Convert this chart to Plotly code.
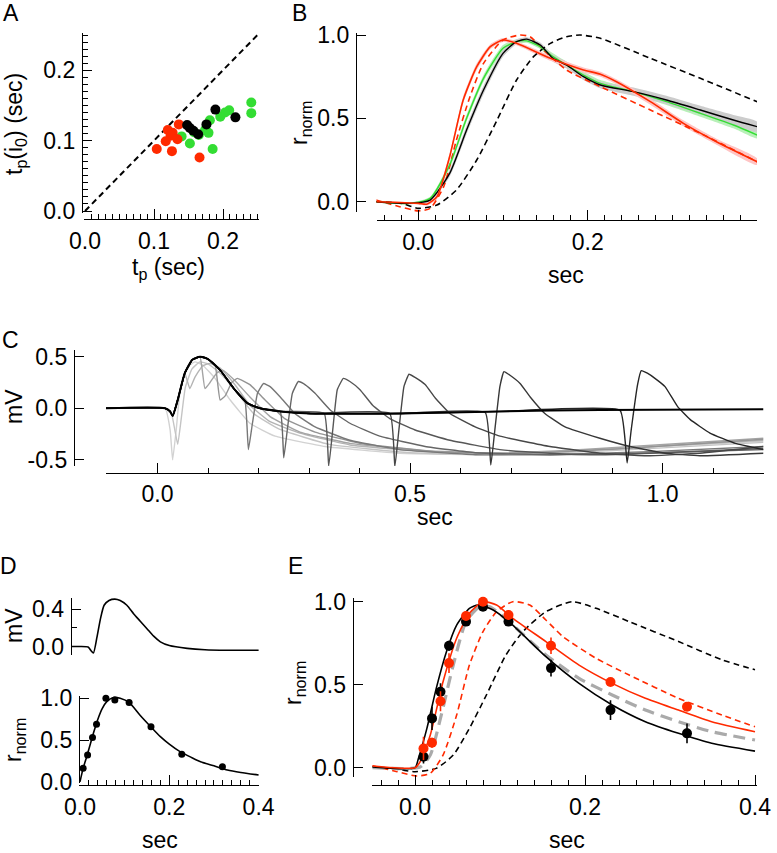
import plotly.graph_objects as go

W, H = 777, 853
FONT = "Liberation Sans, Arial, Helvetica, sans-serif"
FS = 23
RED = "#ff2a00"
GREEN = "#33dd33"

# ---------------- Panel A data ----------------
A_red_x = [0.136, 0.120, 0.127, 0.124, 0.117, 0.134, 0.104, 0.126, 0.166]
A_red_y = [0.123, 0.115, 0.111, 0.107, 0.099, 0.102, 0.088, 0.085, 0.076]
A_green_x = [0.241, 0.241, 0.209, 0.203, 0.196, 0.181, 0.174, 0.179, 0.165, 0.152, 0.140, 0.185, 0.158]
A_green_y = [0.154, 0.139, 0.143, 0.140, 0.134, 0.129, 0.115, 0.111, 0.108, 0.096, 0.106, 0.088, 0.112]
A_black_x = [0.189, 0.218, 0.176, 0.148, 0.152, 0.157, 0.164]
A_black_y = [0.144, 0.133, 0.123, 0.122, 0.118, 0.114, 0.109]
A_unity = [0.0, 0.25]

# ---------------- Panel B data ----------------
B_bdash_x = [-0.05, -0.02, 0.0, 0.022, 0.045, 0.069, 0.093, 0.116, 0.136, 0.156, 0.175, 0.191, 0.215, 0.274, 0.333, 0.4]
B_bdash_y = [0.0, -0.01, -0.04, -0.02, 0.07, 0.25, 0.49, 0.73, 0.87, 0.95, 0.99, 1.0, 0.98, 0.86, 0.74, 0.60]
B_rdash_x = [-0.05, -0.022, 0.0, 0.014, 0.03, 0.045, 0.061, 0.077, 0.1, 0.12, 0.132, 0.148, 0.175, 0.215, 0.274, 0.333, 0.4]
B_rdash_y = [0.01, -0.03, -0.055, -0.04, 0.09, 0.37, 0.63, 0.83, 0.97, 1.0, 0.99, 0.91, 0.79, 0.69, 0.55, 0.41, 0.24]
B_red_x = [-0.05, 0.0, 0.01, 0.022, 0.037, 0.053, 0.069, 0.085, 0.1, 0.116, 0.156, 0.195, 0.215, 0.234, 0.274, 0.313, 0.352, 0.4]
B_red_y = [0.0, -0.01, -0.015, 0.03, 0.27, 0.61, 0.81, 0.93, 0.97, 0.95, 0.86, 0.79, 0.765, 0.72, 0.60, 0.47, 0.36, 0.24]
B_red_sd = [0.005, 0.005, 0.008, 0.015, 0.02, 0.02, 0.02, 0.015, 0.012, 0.012, 0.015, 0.015, 0.015, 0.015, 0.018, 0.018, 0.018, 0.02]
B_black_x = [-0.05, -0.01, 0.014, 0.037, 0.057, 0.077, 0.1, 0.116, 0.128, 0.144, 0.159, 0.175, 0.195, 0.215, 0.254, 0.293, 0.333, 0.372, 0.4]
B_black_y = [0.0, -0.01, 0.01, 0.17, 0.43, 0.67, 0.89, 0.96, 0.975, 0.94, 0.86, 0.82, 0.75, 0.70, 0.66, 0.61, 0.55, 0.49, 0.45]
B_black_sd = [0.005, 0.005, 0.01, 0.02, 0.025, 0.025, 0.02, 0.015, 0.012, 0.015, 0.02, 0.02, 0.02, 0.02, 0.025, 0.025, 0.025, 0.03, 0.03]
B_green_x = B_black_x
B_green_y = [0.0, -0.01, 0.02, 0.22, 0.50, 0.74, 0.92, 0.96, 0.965, 0.93, 0.87, 0.82, 0.76, 0.71, 0.66, 0.60, 0.53, 0.46, 0.40]
B_green_sd = [0.005, 0.005, 0.01, 0.02, 0.02, 0.02, 0.02, 0.015, 0.012, 0.015, 0.02, 0.02, 0.02, 0.02, 0.02, 0.02, 0.02, 0.02, 0.02]

# ---------------- Panel C data ----------------
C_main_x = [-0.102, 0.015, 0.025, 0.03, 0.04, 0.054, 0.069, 0.084, 0.099, 0.124, 0.153, 0.178, 0.203, 0.243, 0.302, 0.48, 0.678, 0.876, 1.2]
C_main_y = [0.0, 0.0, -0.03, -0.074, 0.08, 0.34, 0.47, 0.5, 0.48, 0.37, 0.18, 0.05, 0.0, -0.03, -0.05, -0.05, -0.03, -0.016, -0.01]
C_traces = [
    ("#d2d2d2",
     [-0.102, 0.015, 0.025, 0.03, 0.037, 0.045, 0.059, 0.074, 0.089, 0.114, 0.144, 0.183, 0.233, 0.332, 0.48, 0.678, 0.876, 1.2],
     [0.0, 0.0, -0.21, -0.5, -0.21, 0.18, 0.4, 0.45, 0.42, 0.29, 0.08, -0.145, -0.27, -0.37, -0.435, -0.45, -0.4, -0.32]),
    ("#c4c4c4",
     [-0.102, 0.015, 0.028, 0.04, 0.047, 0.055, 0.068, 0.084, 0.1, 0.124, 0.153, 0.19, 0.24, 0.34, 0.5, 0.7, 0.9, 1.2],
     [0.0, 0.0, -0.06, -0.35, -0.1, 0.2, 0.38, 0.45, 0.43, 0.34, 0.18, -0.05, -0.2, -0.35, -0.43, -0.445, -0.41, -0.33]),
    ("#b4b4b4",
     [-0.102, 0.015, 0.025, 0.03, 0.04, 0.054, 0.064, 0.074, 0.089, 0.104, 0.124, 0.153, 0.183, 0.223, 0.282, 0.381, 0.53, 0.678, 0.876, 1.2],
     [0.0, 0.0, -0.03, -0.074, 0.08, 0.34, 0.19, 0.3, 0.41, 0.435, 0.39, 0.23, 0.03, -0.13, -0.24, -0.355, -0.42, -0.44, -0.4, -0.31]),
    ("#a4a4a4",
     [-0.102, 0.015, 0.025, 0.03, 0.04, 0.054, 0.069, 0.084, 0.094, 0.104, 0.117, 0.129, 0.153, 0.183, 0.223, 0.282, 0.381, 0.53, 0.678, 0.876, 1.2],
     [0.0, 0.0, -0.03, -0.074, 0.08, 0.34, 0.47, 0.5, 0.19, 0.25, 0.34, 0.37, 0.27, 0.11, -0.08, -0.23, -0.34, -0.41, -0.435, -0.39, -0.29]),
    ("#949494",
     [-0.102, 0.015, 0.025, 0.03, 0.04, 0.054, 0.069, 0.084, 0.099, 0.114, 0.124, 0.134, 0.147, 0.158, 0.183, 0.213, 0.252, 0.312, 0.401, 0.55, 0.728, 0.926, 1.2],
     [0.0, 0.0, -0.03, -0.074, 0.08, 0.34, 0.47, 0.5, 0.48, 0.42, 0.08, 0.12, 0.25, 0.29, 0.23, 0.08, -0.1, -0.23, -0.34, -0.42, -0.435, -0.39, -0.3]),
    ("#787878",
     [-0.102, 0.015, 0.025, 0.03, 0.04, 0.054, 0.069, 0.084, 0.099, 0.124, 0.153, 0.173, 0.18, 0.188, 0.198, 0.21, 0.223, 0.243, 0.272, 0.312, 0.381, 0.48, 0.629, 0.777, 0.975, 1.2],
     [0.0, 0.0, -0.03, -0.074, 0.08, 0.34, 0.47, 0.5, 0.48, 0.37, 0.18, 0.08, -0.4, -0.145, 0.145, 0.24, 0.21, 0.11, -0.05, -0.18, -0.31, -0.4, -0.45, -0.45, -0.42, -0.37]),
    ("#666666",
     [-0.102, 0.015, 0.025, 0.03, 0.04, 0.054, 0.069, 0.084, 0.099, 0.124, 0.153, 0.178, 0.203, 0.243, 0.25, 0.257, 0.267, 0.279, 0.292, 0.312, 0.342, 0.381, 0.44, 0.53, 0.629, 0.777, 0.926, 1.2],
     [0.0, 0.0, -0.03, -0.074, 0.08, 0.34, 0.47, 0.5, 0.48, 0.37, 0.18, 0.05, 0.0, -0.03, -0.48, -0.21, 0.145, 0.26, 0.23, 0.145, -0.016, -0.145, -0.27, -0.37, -0.43, -0.45, -0.44, -0.4]),
    ("#575757",
     [-0.102, 0.015, 0.025, 0.03, 0.04, 0.054, 0.069, 0.084, 0.099, 0.124, 0.153, 0.178, 0.203, 0.243, 0.33, 0.339, 0.347, 0.356, 0.368, 0.381, 0.401, 0.426, 0.46, 0.51, 0.579, 0.678, 0.777, 0.876, 0.975, 1.2],
     [0.0, 0.0, -0.03, -0.074, 0.08, 0.34, 0.47, 0.5, 0.48, 0.37, 0.18, 0.05, 0.0, -0.03, -0.048, -0.56, -0.21, 0.18, 0.29, 0.26, 0.18, 0.03, -0.1, -0.21, -0.31, -0.4, -0.435, -0.45, -0.435, -0.39]),
    ("#474747",
     [-0.102, 0.015, 0.025, 0.03, 0.04, 0.054, 0.069, 0.084, 0.099, 0.124, 0.153, 0.178, 0.203, 0.243, 0.302, 0.46, 0.47, 0.478, 0.488, 0.498, 0.51, 0.53, 0.55, 0.579, 0.629, 0.678, 0.777, 0.876, 0.975, 1.074, 1.2],
     [0.0, 0.0, -0.03, -0.074, 0.08, 0.34, 0.47, 0.5, 0.48, 0.37, 0.18, 0.05, 0.0, -0.03, -0.05, -0.05, -0.565, -0.21, 0.21, 0.33, 0.3, 0.23, 0.1, -0.05, -0.18, -0.27, -0.37, -0.435, -0.46, -0.435, -0.37]),
    ("#383838",
     [-0.102, 0.015, 0.025, 0.03, 0.04, 0.054, 0.069, 0.084, 0.099, 0.124, 0.153, 0.178, 0.203, 0.243, 0.302, 0.48, 0.649, 0.66, 0.668, 0.678, 0.686, 0.698, 0.718, 0.738, 0.767, 0.807, 0.876, 0.936, 1.005, 1.074, 1.2],
     [0.0, 0.0, -0.03, -0.074, 0.08, 0.34, 0.47, 0.5, 0.48, 0.37, 0.18, 0.05, 0.0, -0.03, -0.05, -0.05, -0.04, -0.55, -0.21, 0.21, 0.355, 0.32, 0.24, 0.11, -0.05, -0.18, -0.29, -0.37, -0.435, -0.46, -0.435]),
    ("#262626",
     [-0.102, 0.015, 0.025, 0.03, 0.04, 0.054, 0.069, 0.084, 0.099, 0.124, 0.153, 0.178, 0.203, 0.243, 0.302, 0.48, 0.678, 0.916, 0.93, 0.938, 0.951, 0.958, 0.97, 0.985, 1.005, 1.03, 1.055, 1.094, 1.144, 1.2],
     [0.0, 0.0, -0.03, -0.074, 0.08, 0.34, 0.47, 0.5, 0.48, 0.37, 0.18, 0.05, 0.0, -0.03, -0.05, -0.05, -0.03, -0.02, -0.53, -0.21, 0.24, 0.365, 0.34, 0.29, 0.21, 0.016, -0.11, -0.24, -0.34, -0.40]),
]

# ---------------- Panel D data ----------------
D_mv_x = [-0.02, 0.0, 0.018, 0.024, 0.03, 0.038, 0.046, 0.054, 0.065, 0.078, 0.09, 0.105, 0.12, 0.135, 0.15, 0.165, 0.18, 0.2, 0.24, 0.28, 0.33, 0.4]
D_mv_y = [0.0, 0.0, -0.005, -0.04, -0.07, 0.1, 0.3, 0.44, 0.49, 0.505, 0.49, 0.44, 0.35, 0.27, 0.19, 0.11, 0.05, 0.01, -0.02, -0.035, -0.04, -0.04]
D_dot_x = [0.007, 0.017, 0.028, 0.037, 0.058, 0.078, 0.11, 0.159, 0.228, 0.319]
D_dot_y = [0.16, 0.32, 0.53, 0.69, 1.0, 0.98, 0.95, 0.66, 0.33, 0.18]
D_fit_x = [0.0, 0.007, 0.015, 0.03, 0.04, 0.05, 0.06, 0.075, 0.09, 0.11, 0.134, 0.16, 0.18, 0.2, 0.224, 0.25, 0.27, 0.3, 0.33, 0.36, 0.4]
D_fit_y = [0.0, 0.16, 0.3, 0.58, 0.75, 0.88, 0.96, 1.01, 1.0, 0.95, 0.8, 0.65, 0.54, 0.45, 0.36, 0.29, 0.24, 0.19, 0.14, 0.11, 0.08]

# ---------------- Panel E data ----------------
E_bdash_x = [-0.05, -0.02, 0.0, 0.025, 0.045, 0.064, 0.084, 0.107, 0.127, 0.154, 0.185, 0.213, 0.252, 0.31, 0.361, 0.4]
E_bdash_y = [0.006, -0.01, -0.024, -0.004, 0.076, 0.237, 0.438, 0.679, 0.82, 0.94, 1.0, 0.96, 0.88, 0.76, 0.65, 0.59]
E_rdash_x = [-0.05, -0.021, 0.002, 0.018, 0.033, 0.049, 0.064, 0.08, 0.096, 0.115, 0.135, 0.154, 0.174, 0.213, 0.252, 0.31, 0.361, 0.4]
E_rdash_y = [0.012, -0.024, -0.05, -0.034, 0.076, 0.317, 0.618, 0.82, 0.94, 1.0, 0.98, 0.89, 0.79, 0.659, 0.558, 0.418, 0.317, 0.247]
E_red_x = [-0.05, 0.0, 0.006, 0.018, 0.033, 0.049, 0.064, 0.08, 0.096, 0.115, 0.154, 0.193, 0.232, 0.271, 0.31, 0.349, 0.4]
E_red_y = [0.01, 0.0, 0.036, 0.197, 0.518, 0.78, 0.93, 1.0, 0.98, 0.9, 0.76, 0.618, 0.508, 0.418, 0.347, 0.277, 0.217]
E_black_x = [-0.05, 0.0, 0.004, 0.014, 0.025, 0.037, 0.049, 0.064, 0.074, 0.092, 0.115, 0.154, 0.193, 0.232, 0.271, 0.31, 0.349, 0.4]
E_black_y = [0.004, 0.0, 0.056, 0.237, 0.478, 0.699, 0.859, 0.96, 0.98, 0.95, 0.859, 0.669, 0.508, 0.378, 0.277, 0.207, 0.147, 0.1]
E_grey_x = [-0.05, 0.006, 0.018, 0.029, 0.045, 0.06, 0.076, 0.088, 0.115, 0.154, 0.193, 0.232, 0.271, 0.31, 0.349, 0.4]
E_grey_y = [0.0, 0.004, 0.076, 0.277, 0.618, 0.88, 0.97, 0.97, 0.859, 0.679, 0.538, 0.438, 0.347, 0.277, 0.217, 0.167]
E_dot_x = [0.01, 0.02, 0.03, 0.04, 0.06, 0.08, 0.11, 0.16, 0.23, 0.32]
E_bdot_y = [0.066, 0.297, 0.458, 0.735, 0.88, 0.97, 0.88, 0.60, 0.347, 0.207]
E_bdot_err = [0.04, 0.07, 0.05, 0.03, 0.02, 0.02, 0.02, 0.05, 0.06, 0.06]
E_rdot_y = [0.116, 0.15, 0.40, 0.63, 0.914, 1.0, 0.92, 0.735, 0.516, 0.367]
E_rdot_err = [0.07, 0.03, 0.06, 0.06, 0.02, 0.02, 0.03, 0.05, 0.02, 0.02]


# ---------------- helpers ----------------
def xdom(a, b):
    return [a / W, b / W]


def ydom(top, bottom):
    return [1 - bottom / H, 1 - top / H]


def rng(p0, v0, p1, v1, a, b):
    k = (v1 - v0) / (p1 - p0)
    return [v0 + (a - p0) * k, v0 + (b - p0) * k]


fig = go.Figure()


def line(x, y, ax, color, width=1.5, dash=None, shape="spline", smoothing=0.6):
    fig.add_trace(go.Scatter(x=x, y=y, xaxis="x" + ax, yaxis="y" + ax, mode="lines",
                             line=dict(color=color, width=width, dash=dash, shape=shape, smoothing=smoothing),
                             hoverinfo="skip", showlegend=False))


def band(x, y, sd, ax, color):
    up = [a + b for a, b in zip(y, sd)]
    lo = [a - b for a, b in zip(y, sd)]
    fig.add_trace(go.Scatter(x=list(x) + list(x)[::-1], y=up + lo[::-1], xaxis="x" + ax, yaxis="y" + ax,
                             mode="lines", fill="toself", fillcolor=color,
                             line=dict(width=0, shape="spline", smoothing=0.6),
                             hoverinfo="skip", showlegend=False))


# Panel A
fig.add_trace(go.Scatter(x=A_unity, y=A_unity, xaxis="x1", yaxis="y1", mode="lines",
                         line=dict(color="black", width=2, dash="6px,4px"), showlegend=False))
for xs, ys, c in [(A_green_x, A_green_y, GREEN), (A_red_x, A_red_y, RED), (A_black_x, A_black_y, "black")]:
    fig.add_trace(go.Scatter(x=xs, y=ys, xaxis="x1", yaxis="y1", mode="markers",
                             marker=dict(color=c, size=10, line=dict(width=0)), showlegend=False,
                             cliponaxis=False))

# Panel B
band(B_green_x, B_green_y, B_green_sd, "2", "#b8f0b8")
band(B_black_x, B_black_y, B_black_sd, "2", "#cccccc")
band(B_red_x, B_red_y, B_red_sd, "2", "#ffc4c4")
line(B_bdash_x, B_bdash_y, "2", "black", 1.6, "6px,4px")
line(B_rdash_x, B_rdash_y, "2", RED, 1.6, "6px,4px")
line(B_green_x, B_green_y, "2", GREEN, 1.4)
line(B_black_x, B_black_y, "2", "black", 1.4)
line(B_red_x, B_red_y, "2", RED, 1.6)

# Panel C
for c, xs, ys in C_traces:
    line(xs, ys, "3", c, 1.4, shape="spline", smoothing=0.35)
line(C_main_x, C_main_y, "3", "black", 2.0)

# Panel D
line(D_mv_x, D_mv_y, "4", "black", 1.6)
line(D_fit_x, D_fit_y, "5", "black", 1.6)
fig.add_trace(go.Scatter(x=D_dot_x, y=D_dot_y, xaxis="x5", yaxis="y5", mode="markers",
                         marker=dict(color="black", size=7), showlegend=False, cliponaxis=False))

# Panel E
line(E_bdash_x, E_bdash_y, "6", "black", 1.6, "6px,4px")
line(E_rdash_x, E_rdash_y, "6", RED, 1.6, "6px,4px")
line(E_grey_x, E_grey_y, "6", "#aaaaaa", 3.2, "12px,7px")
line(E_black_x, E_black_y, "6", "black", 1.6)
line(E_red_x, E_red_y, "6", RED, 1.6)
for ys, err, c in [(E_bdot_y, E_bdot_err, "black"), (E_rdot_y, E_rdot_err, RED)]:
    fig.add_trace(go.Scatter(x=E_dot_x, y=ys, xaxis="x6", yaxis="y6", mode="markers",
                             marker=dict(color=c, size=10),
                             error_y=dict(type="data", array=err, color=c, thickness=1.6, width=0),
                             showlegend=False, cliponaxis=False))

# ---------------- axes ----------------
tickfont = dict(family=FONT, size=FS, color="black")


def xaxis(dom_a, dom_b, p0, v0, p1, v1, ypos, tickvals, ticktext, minor_dtick=None, visible=True):
    d = dict(domain=xdom(dom_a, dom_b), range=rng(p0, v0, p1, v1, dom_a, dom_b),
             anchor="free", position=1 - ypos / H, showgrid=False, zeroline=False, automargin=False,
             showline=visible, linecolor="black", linewidth=1.3,
             ticks="inside" if visible else "", ticklen=10, tickwidth=1.2, tickcolor="black",
             tickmode="array", tickvals=tickvals, ticktext=ticktext,
             showticklabels=visible, tickfont=tickfont, ticklabelstandoff=1, fixedrange=True)
    if minor_dtick and visible:
        d["minor"] = dict(dtick=minor_dtick, tick0=0, ticks="inside", ticklen=5, tickwidth=1.1,
                          tickcolor="black", showgrid=False)
    return d


def yaxis(top, bottom, p0, v0, p1, v1, xpos, tickvals, ticktext, minor_dtick=None):
    r = rng(p0, v0, p1, v1, bottom, top)
    d = dict(domain=ydom(top, bottom), range=r,
             anchor="free", position=xpos / W, showgrid=False, zeroline=False, automargin=False,
             showline=True, linecolor="black", linewidth=1.3,
             ticks="inside", ticklen=9, tickwidth=1.2, tickcolor="black",
             tickmode="array", tickvals=tickvals, ticktext=ticktext,
             tickfont=tickfont, ticklabelstandoff=2, fixedrange=True)
    if minor_dtick:
        d["minor"] = dict(dtick=minor_dtick, tick0=0, ticks="inside", ticklen=5, tickwidth=1.1,
                          tickcolor="black", showgrid=False)
    return d


layout = dict(
    template="none",
    width=W, height=H, margin=dict(l=0, r=0, t=0, b=0, autoexpand=False),
    paper_bgcolor="white", plot_bgcolor="white", showlegend=False,
    font=dict(family=FONT, size=FS, color="black"),
)
# A
layout["xaxis"] = xaxis(84, 259, 85, 0.0, 257.5, 0.25, 219, [0, 0.1, 0.2], ["0.0", "0.1", "0.2"], 0.01)
layout["yaxis"] = yaxis(33, 213, 211, 0.0, 140.6, 0.1, 82, [0, 0.1, 0.2], ["0.0", "0.1", "0.2"], 0.01)
# B
layout["xaxis2"] = xaxis(376.5, 757, 418.3, 0.0, 587.7, 0.2, 220, [0, 0.2, 0.4], ["0.0", "0.2", "0.4"], 0.02)
layout["yaxis2"] = yaxis(33, 212, 201.7, 0.0, 35, 1.0, 356, [0, 0.5, 1.0], ["0.0", "0.5", "1.0"])
# C
layout["xaxis3"] = xaxis(106, 763.5, 157.5, 0.0, 410, 0.5, 472.7, [0, 0.5, 1.0], ["0.0", "0.5", "1.0"], 0.1)
layout["yaxis3"] = yaxis(350, 466, 408.3, 0.0, 356.7, 0.5, 74, [-0.5, 0, 0.5], ["-0.5", "0.0", "0.5"])
# D top
layout["xaxis4"] = xaxis(71, 259, 80, 0.0, 169.3, 0.2, 660, [], [], None, visible=False)
layout["yaxis4"] = yaxis(598, 655, 646.5, 0.0, 609, 0.4, 70.7, [0, 0.4], ["0.0", "0.4"], 0.2)
# D bottom
layout["xaxis5"] = xaxis(79, 259, 80, 0.0, 169.3, 0.2, 785, [0, 0.2, 0.4], ["0.0", "0.2", "0.4"], 0.02)
layout["yaxis5"] = yaxis(696, 782.5, 781.7, 0.0, 698.3, 1.0, 79, [0, 0.5, 1.0], ["0.0", "0.5", "1.0"])
# E
layout["xaxis6"] = xaxis(371.7, 757, 415, 0.0, 585, 0.2, 785, [0, 0.2, 0.4], ["0.0", "0.2", "0.4"], 0.02)
layout["yaxis6"] = yaxis(598, 777, 767.7, 0.0, 601.7, 1.0, 352.7, [0, 0.5, 1.0], ["0.0", "0.5", "1.0"])
fig.update_layout(**layout)


# ---------------- text ----------------
def txt(x, y, s, angle=0, size=FS):
    fig.add_annotation(x=x / W, y=1 - y / H, xref="paper", yref="paper", text=s, showarrow=False,
                       textangle=angle, font=dict(family=FONT, size=size, color="black"),
                       xanchor="center", yanchor="middle")


txt(11, 13, "A", size=23)
txt(299, 13, "B", size=23)
txt(10, 340, "C", size=23)
txt(8, 566, "D", size=23)
txt(295, 566, "E", size=23)

txt(168, 268, "t<sub>p</sub> (sec)")
txt(15, 124, "t<sub>p</sub>(i<sub>0</sub>) (sec)", angle=-90)
txt(566, 275, "sec")
txt(301, 123, "r<sub>norm</sub>", angle=-90)
txt(435, 517, "sec")
txt(14, 407, "mV", angle=-90)
txt(14, 626, "mV", angle=-90)
txt(14, 740, "r<sub>norm</sub>", angle=-90)
txt(160, 840, "sec")
txt(567, 840, "sec")
txt(294, 683, "r<sub>norm</sub>", angle=-90)

fig.write_html("out.html", config={"displayModeBar": False},
               post_script="document.body.style.margin='0px';document.body.style.padding='0px';")
